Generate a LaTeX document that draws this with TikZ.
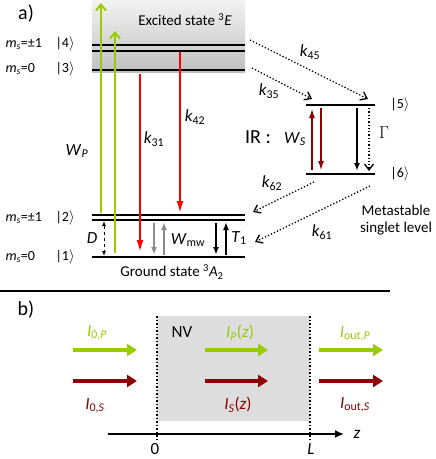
\documentclass[tikz,border=0pt]{standalone}
\usepackage{fontspec}
\setmainfont{Carlito}
\usetikzlibrary{arrows.meta}
\definecolor{pump}{RGB}{153,204,0}
\definecolor{probe}{RGB}{140,0,0}
\newcommand{\ket}[1]{\textbar#1$\rangle$}

\begin{document}
\begin{tikzpicture}[x=1pt,y=-1pt,font=\fontsize{15}{18}\selectfont,
	lvl/.style={line width=2.4pt},
	pumparr/.style={pump,line width=2pt,-{Straight Barb[length=6pt,width=10pt]}},
	decay/.style={red,line width=2pt,-{Latex[length=12pt,width=7pt]}},
	mwarr/.style={gray!90,line width=2pt,-{Latex[length=8pt,width=6pt]}},
	relax/.style={line width=1.6pt,-{Latex[length=8pt,width=6pt]}},
	isc/.style={dotted,line width=1.3pt,-{Straight Barb[length=6pt,width=9pt]}},
	irarr/.style={probe,line width=2pt,-{Latex[length=10pt,width=6pt]}},
	beam/.style={line width=3.5pt,-{Triangle[length=10pt,width=12pt]}},
	big/.style={font=\fontsize{20}{24}\selectfont},
	rate/.style={font=\fontsize{17}{20}\selectfont},
	small/.style={font=\fontsize{14}{17}\selectfont}]
				\useasboundingbox (0,0) rectangle (436,459);
				
				% a) triplet levels
				\node[big] (a) at (26,14) {a)};
				\shade[top color=gray!10,bottom color=gray!50] (92,0) rectangle (245,72);
				\node (exc) at (185,20) {Excited state \textsuperscript{3}\textit{E}};
				\foreach \y in {45,51,70,215,220,257}{
					\draw[lvl] (92,\y) -- (245,\y);
				}
				\foreach \y/\m/\k in {44/±1/4, 69/0/3, 218/±1/2, 257/0/1}{
					\node[small,anchor=west] (m\k) at (2,\y) {\textit{m}\textsubscript{\textit{s}}=\m};
					\node[small,anchor=west] (s\k) at (52,\y) {\ket{\k}};
				}
				\node (gnd) at (172,272) {Ground state \textsuperscript{3}\textit{A}\textsubscript{2}};
				
				% singlet levels
				\foreach \y/\k in {105/5, 174/6}{
					\draw[lvl] (306,\y) -- (375,\y);
					\node[small] (s\k) at (400,\y) {\ket{\k}};
				}
				\node (met) at (396,210) {Metastable};
				\node (sgl) at (396,229) {singlet level};
				
				% transitions: name/x/from/to
				\foreach \x/\y/\a/\b in
				{P/101/213/3, Q/115/253/31, R/140/74/252, S/180/52/213,
				 M/154/223/255, N/164/255/222, T/216/223/255, U/226/255/222,
				 V/312/170/108, W/321/108/171, X/357/108/171, Y/369/108/171}{
					\coordinate (\x1) at (\y,\a);
					\coordinate (\x2) at (\y,\b);
				}
				\draw[pumparr] (P1) -- (P2);
				\draw[pumparr] (Q1) -- (Q2);
				\draw[decay] (R1) -- (R2);
				\draw[decay] (S1) -- (S2);
				\draw[mwarr] (M1) -- (M2);
				\draw[mwarr] (N1) -- (N2);
				\draw[relax] (T1) -- (T2);
				\draw[relax] (U1) -- (U2);
				\draw[irarr] (V1) -- (V2);
				\draw[irarr] (W1) -- (W2);
				\draw[relax] (X1) -- (X2);
				\draw[isc] (Y1) -- (Y2);
				
				% zero field splitting
				\coordinate (D1) at (104,221);
				\coordinate (D2) at (104,256);
				\draw[dashed,line width=1pt,{Latex[length=5pt,width=4pt]}-{Latex[length=5pt,width=4pt]}] (D1) -- (D2);
				
				% intersystem crossing
				\foreach \x/\a/\b/\c/\d in
				{F/250/40/368/99, G/252/68/312/99, H/314/182/253/212, J/370/186/255/242}{
					\coordinate (\x1) at (\a,\b);
					\coordinate (\x2) at (\c,\d);
					\draw[isc] (\x1) -- (\x2);
				}
				
				% rate labels
				\node[rate] (wp) at (77,151) {\textit{W}\textsubscript{\textit{P}}};
				\node[rate] (k31) at (154,139) {\textit{k}\textsubscript{31}};
				\node[rate] (k42) at (195,117) {\textit{k}\textsubscript{42}};
				\node[rate] (d) at (92,238) {\textit{D}};
				\node[rate] (wmw) at (188,240) {\textit{W}\textsubscript{mw}};
				\node[rate] (t1) at (239,238) {\textit{T}\textsubscript{1}};
				\node[rate] (k45) at (310,52) {\textit{k}\textsubscript{45}};
				\node[rate] (k35) at (269,91) {\textit{k}\textsubscript{35}};
				\node[big] (ir) at (258,137) {IR :};
				\node[rate] (ws) at (295,139) {\textit{W}\textsubscript{\textit{S}}};
				\node[rate] (g) at (384,133) {$\Gamma$};
				\node[rate] (k62) at (272,183) {\textit{k}\textsubscript{62}};
				\node[rate] (k61) at (322,232) {\textit{k}\textsubscript{61}};
				
				\draw[line width=2pt] (0,291) -- (390,291);
				
				% b) propagation
				\node[big] (b) at (26,310) {b)};
				\fill[gray!27] (157,316) rectangle (310,421);
				\node[rate] (nv) at (182,332) {NV};
				\coordinate (z0) at (157,316);
				\coordinate (z1) at (157,441);
				\coordinate (zL) at (310,316);
				\coordinate (zM) at (310,441);
				\draw[dotted,line width=1.5pt] (z0) -- (z1);
				\draw[dotted,line width=1.5pt] (zL) -- (zM);
				\coordinate (o1) at (108,434);
				\coordinate (o2) at (344,434);
				\draw[line width=1.5pt,-{Latex[length=9pt,width=8pt]}] (o1) -- (o2);
				\node[rate] (z) at (357,434) {\textit{z}};
				\node[rate] (n0) at (155,449) {0};
				\node[rate] (nL) at (311,449) {\textit{L}};
				
				\foreach \x/\a/\b in {1/73/137, 2/205/268, 3/319/383}{
					\coordinate (g\x a) at (\a,350);
					\coordinate (g\x b) at (\b,350);
					\coordinate (r\x a) at (\a,381);
					\coordinate (r\x b) at (\b,381);
					\draw[beam,pump] (g\x a) -- (g\x b);
					\draw[beam,probe] (r\x a) -- (r\x b);
				}
				\node[rate,pump] (i0p) at (97,333) {\textit{I}\textsubscript{0,\textit{P}}};
				\node[rate,probe] (i0s) at (95,406) {\textit{I}\textsubscript{0,\textit{S}}};
				\node[rate,pump] (ipz) at (240,333) {\textit{I}\textsubscript{\textit{P}}(\textit{z})};
				\node[rate,probe] (isz) at (238,405) {\textit{I}\textsubscript{\textit{S}}(\textit{z})};
				\node[rate,pump] (iop) at (355,334) {\textit{I}\textsubscript{out,\textit{P}}};
				\node[rate,probe] (ios) at (355,405) {\textit{I}\textsubscript{out,\textit{S}}};
\end{tikzpicture}
\end{document}
